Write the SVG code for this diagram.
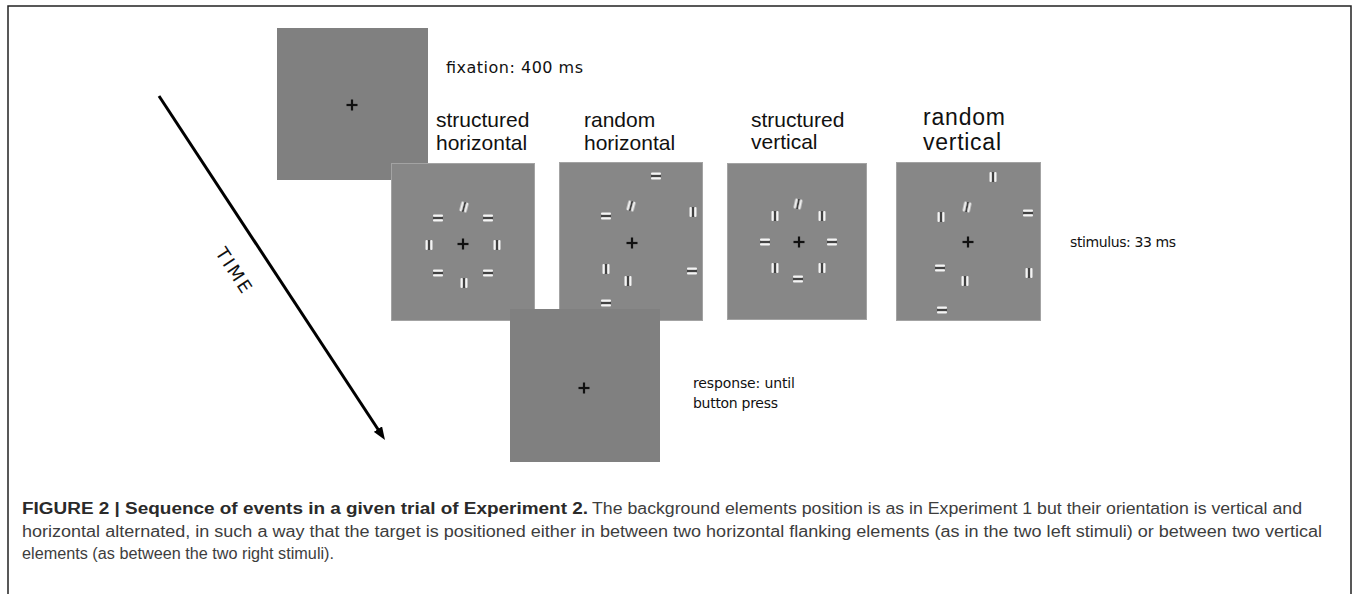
<svg xmlns="http://www.w3.org/2000/svg" xmlns:xlink="http://www.w3.org/1999/xlink" width="1356" height="594" viewBox="0 0 1356 594">
<style>
.bg{fill:#ffffff}
.frame{fill:none;stroke:#222;stroke-width:1.5}
.fix{fill:#808080}
.stim{fill:#878787;stroke:#a3a3a3;stroke-width:1}
.cross{stroke:#111;stroke-width:2.2}
.lbl{font-family:"Liberation Sans",Arial,sans-serif;font-size:21px;fill:#111}
.lbl2{font-family:"Liberation Sans",Arial,sans-serif;font-size:23px;fill:#111}
.note{font-family:"DejaVu Sans",Verdana,sans-serif;font-size:14px;fill:#111}
.note16{font-family:"DejaVu Sans",Verdana,sans-serif;font-size:16px;fill:#111}
.cap{font-family:"Liberation Sans",Arial,sans-serif;font-size:16px;fill:#3d3d3d}
.capb{font-family:"Liberation Sans",Arial,sans-serif;font-size:16px;font-weight:bold;fill:#2a2a2a}
.arrow{stroke:#000;stroke-width:3;fill:none}
.time{font-family:"DejaVu Sans",Verdana,sans-serif;font-size:18px;fill:#111}
</style>
<defs>
<filter id="soft" x="-50%" y="-50%" width="200%" height="200%"><feGaussianBlur stdDeviation="0.45"/></filter>
<g id="hg" filter="url(#soft)">
<rect x="-5" y="-3.4" width="10" height="2.2" rx="1" fill="#f4f4f4"/>
<rect x="-5" y="-0.9" width="10" height="1.8" fill="#3c3c3c"/>
<rect x="-5" y="1.2" width="10" height="2.2" rx="1" fill="#f4f4f4"/>
</g>
<g id="vg"><use xlink:href="#hg" transform="rotate(90)"/></g>
<g id="cr"><line class="cross" x1="-5.5" y1="0" x2="5.5" y2="0"/><line class="cross" x1="0" y1="-5.5" x2="0" y2="5.5"/></g>
<marker id="ah" markerUnits="userSpaceOnUse" markerWidth="14" markerHeight="10" refX="5" refY="5" orient="auto">
<path d="M0,0 L13,5 L0,10 z" fill="#000"/>
</marker>
</defs>
<rect class="bg" x="0" y="0" width="1356" height="594"/>
<path class="frame" d="M8,594 V6 H1351 V594"/>

<g id="connectors">
<line class="arrow" x1="159" y1="96" x2="380.6" y2="433.3" marker-end="url(#ah)"/>
</g>
<g id="time-label">
<text class="time" transform="translate(234,270) rotate(56.7)" y="6.5" text-anchor="middle" textLength="50">TIME</text>
</g>

<g id="fixation">
<rect class="fix" x="277" y="28" width="151" height="152"/>
<use xlink:href="#cr" x="352" y="105"/>
<text class="note16" x="446" y="73" textLength="137">fixation: 400 ms</text>
</g>

<g id="structured-horizontal">
<rect class="stim" x="391.5" y="163.5" width="143" height="157"/>
<use xlink:href="#cr" x="463" y="244"/>
<use xlink:href="#vg" transform="translate(464,207) rotate(15)"/>
<use xlink:href="#hg" x="438" y="218"/>
<use xlink:href="#hg" x="488" y="218"/>
<use xlink:href="#vg" x="429" y="245"/>
<use xlink:href="#vg" x="497" y="245"/>
<use xlink:href="#hg" x="438" y="273"/>
<use xlink:href="#hg" x="488" y="273"/>
<use xlink:href="#vg" x="464" y="283"/>
<text class="lbl" x="436" y="127">structured</text>
<text class="lbl" x="436" y="150">horizontal</text>
</g>

<g id="random-horizontal">
<rect class="stim" x="559.5" y="162.5" width="143" height="158"/>
<use xlink:href="#cr" x="632" y="243"/>
<use xlink:href="#hg" x="656" y="176"/>
<use xlink:href="#vg" transform="translate(631,206) rotate(15)"/>
<use xlink:href="#hg" x="606" y="216"/>
<use xlink:href="#vg" x="693" y="212"/>
<use xlink:href="#vg" x="606" y="269"/>
<use xlink:href="#hg" x="692" y="271"/>
<use xlink:href="#vg" x="628" y="281"/>
<use xlink:href="#hg" x="606" y="303"/>
<text class="lbl" x="584" y="127">random</text>
<text class="lbl" x="584" y="150">horizontal</text>
</g>

<g id="structured-vertical">
<rect class="stim" x="727.5" y="163.5" width="139" height="156"/>
<use xlink:href="#cr" x="799" y="242"/>
<use xlink:href="#vg" transform="translate(798,204) rotate(12)"/>
<use xlink:href="#vg" x="775" y="216"/>
<use xlink:href="#vg" x="822" y="216"/>
<use xlink:href="#hg" x="765" y="242"/>
<use xlink:href="#hg" x="832" y="242"/>
<use xlink:href="#vg" x="775" y="268"/>
<use xlink:href="#vg" x="822" y="268"/>
<use xlink:href="#hg" x="798" y="279"/>
<text class="lbl" x="751" y="127">structured</text>
<text class="lbl" x="751" y="149">vertical</text>
</g>

<g id="random-vertical">
<rect class="stim" x="896.5" y="162.5" width="144" height="158"/>
<use xlink:href="#cr" x="968" y="242"/>
<use xlink:href="#vg" x="993" y="177"/>
<use xlink:href="#vg" transform="translate(967,207) rotate(12)"/>
<use xlink:href="#vg" x="941" y="217"/>
<use xlink:href="#hg" x="1028" y="213"/>
<use xlink:href="#hg" x="940" y="268"/>
<use xlink:href="#vg" x="1029" y="273"/>
<use xlink:href="#vg" x="965" y="281"/>
<use xlink:href="#hg" x="942" y="310"/>
<text class="lbl2" x="923" y="125" textLength="82">random</text>
<text class="lbl2" x="923" y="150" textLength="78">vertical</text>
</g>

<g id="stimulus-note">
<text class="note" x="1070" y="247" textLength="106">stimulus: 33 ms</text>
</g>

<g id="response">
<rect class="fix" x="510" y="309" width="150" height="153"/>
<use xlink:href="#cr" x="584" y="388"/>
<text class="note" x="693" y="388" textLength="102">response: until</text>
<text class="note" x="693" y="408" textLength="85">button press</text>
</g>

<g id="caption">
<text class="capb" x="22" y="514" textLength="566" lengthAdjust="spacingAndGlyphs">FIGURE 2 | Sequence of events in a given trial of Experiment 2.</text>
<text class="cap" x="592" y="514" textLength="710" lengthAdjust="spacingAndGlyphs">The background elements position is as in Experiment 1 but their orientation is vertical and</text>
<text class="cap" x="22" y="537" textLength="1300" lengthAdjust="spacingAndGlyphs">horizontal alternated, in such a way that the target is positioned either in between two horizontal flanking elements (as in the two left stimuli) or between two vertical</text>
<text class="cap" x="22" y="559" textLength="312" lengthAdjust="spacingAndGlyphs">elements (as between the two right stimuli).</text>
</g>
</svg>
